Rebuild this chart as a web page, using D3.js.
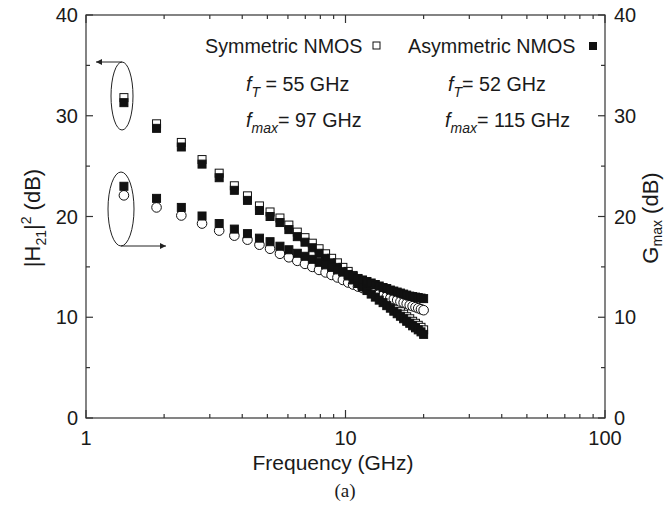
<html>
<head>
  <meta charset="utf-8">
  <title>H21 and Gmax vs frequency</title>
  <script type="text/javascript" src="https://d3js.org/d3.v7.min.js"></script>
  <style>
    body { margin: 0; background: #fff; }
    text { font-family: "Liberation Sans", Arial, sans-serif; fill: #1a1a1a; }
  </style>
</head>
<body>
  <svg width="668" height="507"></svg>
  <script>
    // frequency points (GHz)
    const freq = [1.40, 1.87, 2.33, 2.80, 3.26, 3.73, 4.19, 4.66, 5.12, 5.59,
      6.05, 6.52, 6.98, 7.45, 7.91, 8.38, 8.84, 9.31, 9.77, 10.24,
      10.70, 11.17, 11.63, 12.10, 12.56, 13.03, 13.49, 13.96, 14.42, 14.89,
      15.35, 15.82, 16.28, 16.75, 17.21, 17.68, 18.14, 18.61, 19.07, 19.54, 20.00];

    // |H21|^2 (dB)
    const h21Sym = [31.8, 29.2, 27.35, 25.65, 24.3, 23.05, 22.05, 21.05, 20.45, 19.85,
      19.15, 18.45, 17.9, 17.35, 16.8, 16.3, 15.85, 15.4, 14.95, 14.55,
      14.15, 13.8, 13.45, 13.1, 12.75, 12.45, 12.15, 11.9, 11.6, 11.35,
      11.05, 10.8, 10.55, 10.3, 10.05, 9.85, 9.6, 9.4, 9.2, 9.0, 8.75];
    const h21Asym = [31.3, 28.75, 26.9, 25.2, 23.85, 22.6, 21.6, 20.6, 20.0, 19.4,
      18.7, 18.0, 17.45, 16.9, 16.35, 15.85, 15.4, 14.95, 14.5, 14.1,
      13.7, 13.35, 13.0, 12.65, 12.3, 12.0, 11.7, 11.45, 11.15, 10.9,
      10.6, 10.35, 10.1, 9.85, 9.6, 9.4, 9.15, 8.95, 8.75, 8.55, 8.3];

    // Gmax (dB)
    const gmaxSym = [22.1, 20.9, 20.1, 19.3, 18.6, 18.1, 17.7, 17.2, 16.8, 16.3,
      15.95, 15.6, 15.3, 15.0, 14.7, 14.45, 14.2, 13.95, 13.7, 13.45,
      13.25, 13.05, 12.9, 12.75, 12.6, 12.45, 12.3, 12.15, 12.05, 11.9,
      11.8, 11.7, 11.55, 11.45, 11.35, 11.2, 11.1, 11.0, 10.9, 10.8, 10.7];
    const gmaxAsym = [23.0, 21.8, 20.9, 20.05, 19.3, 18.75, 18.3, 17.85, 17.5, 17.05,
      16.7, 16.35, 16.05, 15.75, 15.45, 15.2, 14.95, 14.7, 14.5, 14.25,
      14.05, 13.85, 13.7, 13.55, 13.4, 13.25, 13.1, 12.95, 12.85, 12.7,
      12.6, 12.5, 12.4, 12.3, 12.2, 12.1, 12.05, 12.0, 11.95, 11.9, 11.85];

    const yTicks = [0, 10, 20, 30, 40];
    const xTicks = [1, 10, 100];

    const svg = d3.select("svg");
    const x = d3.scaleLog().domain([1, 100]).range([86, 605]);
    const y = d3.scaleLinear().domain([0, 40]).range([418, 15]);

    const minorX = [];
    [1, 10].forEach(d => { for (let k = 2; k <= 9; k++) minorX.push(d * k); });
    const minorY = [5, 15, 25, 35];

    // frame
    svg.append("rect")
      .attr("x", 86).attr("y", 15)
      .attr("width", 605 - 86).attr("height", 418 - 15)
      .attr("fill", "none").attr("stroke", "#333").attr("stroke-width", 1.2);

    const tickG = svg.append("g").attr("stroke", "#333").attr("stroke-width", 1.2);
    // x ticks bottom and top (inward)
    xTicks.concat(minorX).forEach(d => {
      const len = xTicks.includes(d) ? 8 : 4;
      tickG.append("line").attr("x1", x(d)).attr("x2", x(d)).attr("y1", 418).attr("y2", 418 - len);
      tickG.append("line").attr("x1", x(d)).attr("x2", x(d)).attr("y1", 15).attr("y2", 15 + len);
    });
    // y ticks left and right (inward)
    yTicks.concat(minorY).forEach(d => {
      const len = yTicks.includes(d) ? 7 : 4;
      tickG.append("line").attr("x1", 86).attr("x2", 86 + len).attr("y1", y(d)).attr("y2", y(d));
      tickG.append("line").attr("x1", 605).attr("x2", 605 - len).attr("y1", y(d)).attr("y2", y(d));
    });

    // tick labels
    svg.selectAll(".xl").data(xTicks).enter().append("text")
      .attr("x", d => x(d)).attr("y", 445)
      .attr("text-anchor", "middle").attr("font-size", 20)
      .text(d => d);
    svg.selectAll(".yl").data(yTicks).enter().append("text")
      .attr("x", 78).attr("y", d => y(d) + 7)
      .attr("text-anchor", "end").attr("font-size", 20)
      .text(d => d);
    svg.selectAll(".yr").data(yTicks).enter().append("text")
      .attr("x", 614).attr("y", d => y(d) + 7)
      .attr("text-anchor", "start").attr("font-size", 20)
      .text(d => d);

    // axis titles
    svg.append("text").attr("x", 333).attr("y", 470)
      .attr("text-anchor", "middle").attr("font-size", 21)
      .text("Frequency (GHz)");
    svg.append("text").attr("x", 345).attr("y", 497)
      .attr("text-anchor", "middle").attr("font-size", 19)
      .style("font-family", "'Liberation Serif', 'Times New Roman', serif")
      .text("(a)");

    const lt = svg.append("text")
      .attr("transform", "translate(40,218) rotate(-90)")
      .attr("text-anchor", "middle").attr("font-size", 22);
    lt.append("tspan").text("|H");
    lt.append("tspan").attr("font-size", 14).attr("dy", 6).text("21");
    lt.append("tspan").attr("dy", -6).text("|");
    lt.append("tspan").attr("font-size", 14).attr("dy", -9).text("2");
    lt.append("tspan").attr("dy", 9).text(" (dB)");

    const rt = svg.append("text")
      .attr("transform", "translate(658,218) rotate(-90)")
      .attr("text-anchor", "middle").attr("font-size", 22);
    rt.append("tspan").text("G");
    rt.append("tspan").attr("font-size", 14).attr("dy", 4).text("max");
    rt.append("tspan").attr("dy", -4).text(" (dB)");

    // data markers
    const s = 8;
    function squares(vals, fill) {
      svg.append("g").selectAll("rect").data(vals).enter().append("rect")
        .attr("x", (d, i) => x(freq[i]) - s / 2)
        .attr("y", d => y(d) - s / 2)
        .attr("width", s).attr("height", s)
        .attr("fill", fill).attr("stroke", "#111").attr("stroke-width", 1);
    }
    squares(h21Sym, "#fff");
    svg.append("g").selectAll("circle").data(gmaxSym).enter().append("circle")
      .attr("cx", (d, i) => x(freq[i]))
      .attr("cy", d => y(d))
      .attr("r", 4.8)
      .attr("fill", "#fff").attr("stroke", "#111").attr("stroke-width", 1);
    squares(h21Asym, "#111");
    squares(gmaxAsym, "#111");

    // legend
    svg.append("text").attr("x", 205).attr("y", 53).attr("font-size", 19.7).text("Symmetric NMOS");
    svg.append("rect").attr("x", 373).attr("y", 42).attr("width", 7).attr("height", 7)
      .attr("fill", "#fff").attr("stroke", "#111").attr("stroke-width", 1);
    svg.append("text").attr("x", 408).attr("y", 53).attr("font-size", 19.7).text("Asymmetric NMOS");
    svg.append("rect").attr("x", 589).attr("y", 42).attr("width", 8).attr("height", 8)
      .attr("fill", "#111");

    function fLabel(xp, yp, sub, rest) {
      const t = svg.append("text").attr("x", xp).attr("y", yp).attr("font-size", 19.7);
      t.append("tspan").attr("font-style", "italic").text("f");
      t.append("tspan").attr("font-style", "italic").attr("font-size", 14).attr("dy", 6).text(sub);
      t.append("tspan").attr("dy", -6).text(rest);
    }
    fLabel(246, 91, "T", " = 55 GHz");
    fLabel(246, 127, "max", "= 97 GHz");
    fLabel(448, 91, "T", "= 52 GHz");
    fLabel(445, 127, "max", "= 115 GHz");

    // ellipses and arrows
    const defs = svg.append("defs");
    defs.append("marker").attr("id", "ah")
      .attr("viewBox", "0 0 10 10").attr("refX", 10).attr("refY", 5)
      .attr("markerWidth", 9).attr("markerHeight", 6).attr("orient", "auto")
      .attr("markerUnits", "userSpaceOnUse")
      .append("path").attr("d", "M0,0L10,5L0,10z").attr("fill", "#222");

    svg.append("ellipse").attr("cx", 122).attr("cy", 96).attr("rx", 11).attr("ry", 34)
      .attr("fill", "none").attr("stroke", "#222").attr("stroke-width", 1);
    svg.append("line").attr("x1", 122).attr("y1", 62).attr("x2", 96).attr("y2", 62)
      .attr("stroke", "#222").attr("stroke-width", 1).attr("marker-end", "url(#ah)");

    svg.append("ellipse").attr("cx", 121).attr("cy", 209).attr("rx", 13).attr("ry", 37)
      .attr("fill", "none").attr("stroke", "#222").attr("stroke-width", 1);
    svg.append("line").attr("x1", 121).attr("y1", 246).attr("x2", 166).attr("y2", 246)
      .attr("stroke", "#222").attr("stroke-width", 1).attr("marker-end", "url(#ah)");
  </script>
</body>
</html>
